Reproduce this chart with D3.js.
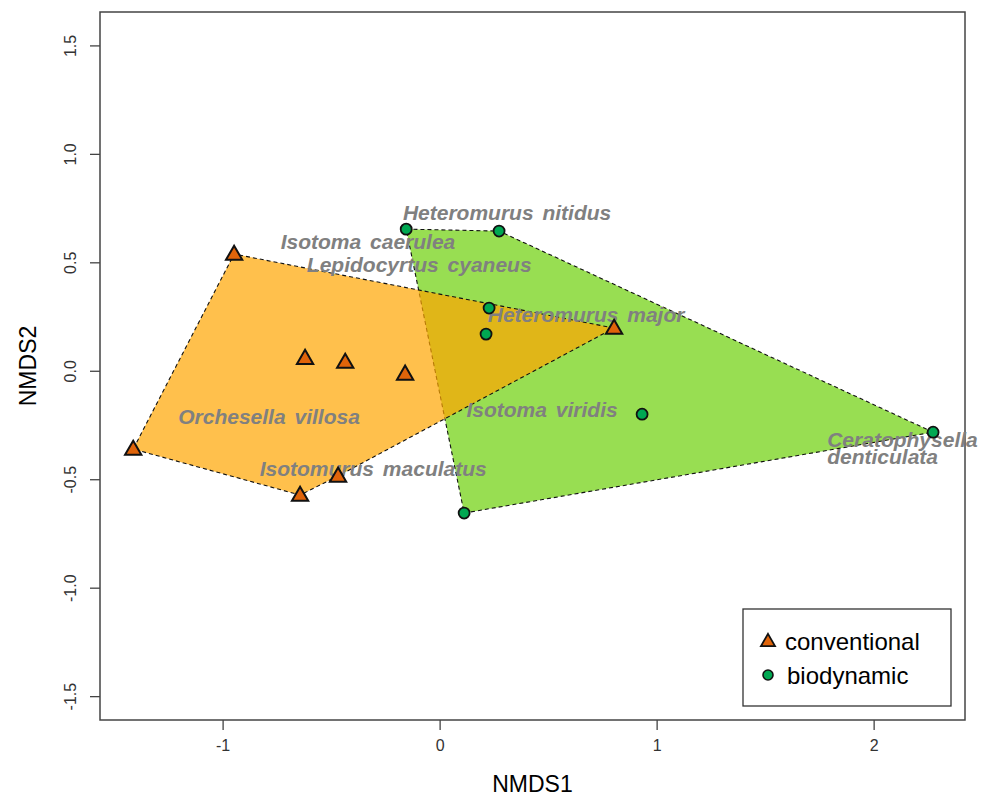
<!DOCTYPE html>
<html>
<head>
<meta charset="utf-8">
<script src="https://cdn.jsdelivr.net/npm/d3@7"></script>
<style>
	body { margin: 0; background: #fff; }
	text { font-family: "Liberation Sans", Arial, sans-serif; }
	.species { font-weight: bold; font-style: italic; fill: #808080; font-size: 21px; word-spacing: 3px; }
</style>
</head>
<body>
<div id="chart-area"></div>
<script>

// site scores (NMDS1, NMDS2)
let convX = [-0.947, -0.62, -0.435, -0.159, 0.804, -1.412, -0.643, -0.468];
let convY = [0.538, 0.058, 0.04, -0.015, 0.197, -0.361, -0.573, -0.485];

let bioX = [-0.154, 0.274, 0.228, 0.214, 0.933, 2.274, 0.113];
let bioY = [0.653, 0.644, 0.289, 0.169, -0.2, -0.283, -0.656];

// species labels
let species = ["Heteromurus nitidus", "Isotoma caerulea", "Lepidocyrtus cyaneus", "Heteromurus major",
	"Orchesella villosa", "Isotomurus maculatus", "Isotoma viridis", "Ceratophysella\ndenticulata"];
let speciesX = [0.311, -0.330, -0.094, 0.675, -0.786, -0.306, 0.472, 1.786];
let speciesY = [0.729, 0.598, 0.492, 0.259, -0.209, -0.448, -0.178, -0.317];
let speciesAnchor = ["middle", "middle", "middle", "middle", "middle", "middle", "middle", "start"];

let groups = ["conventional", "biodynamic"];
let xTicks = [-1, 0, 1, 2];
let yTicks = [-1.5, -1.0, -0.5, 0.0, 0.5, 1.0, 1.5];

// SVG drawing area
let margin = {top: 12, right: 19, bottom: 76, left: 100};
let width = 984 - margin.left - margin.right,
	height = 796 - margin.top - margin.bottom;

let svg = d3.select("#chart-area").append("svg")
	.attr("width", width + margin.left + margin.right)
	.attr("height", height + margin.top + margin.bottom)
	.append("g")
	.attr("transform", "translate(" + margin.left + "," + margin.top + ")");

let x = d3.scaleLinear().domain([-1.565, 2.421]).range([0, width]);
let y = d3.scaleLinear().domain([-1.61, 1.654]).range([height, 0]);

let conv = convX.map((d, i) => [d, convY[i]]);
let bio = bioX.map((d, i) => [d, bioY[i]]);

// hulls - green first, orange on top
function drawHull(pts, color) {
	let hull = d3.polygonHull(pts.map(p => [x(p[0]), y(p[1])]));
	svg.append("path")
		.attr("d", "M" + hull.join("L") + "Z")
		.attr("fill", color)
		.attr("fill-opacity", 0.7)
		.attr("stroke", "#111")
		.attr("stroke-width", 1.1)
		.attr("stroke-dasharray", "4,3");
}
drawHull(bio, "#6CD008");
drawHull(conv, "#FFA500");

// axes
let xAxis = svg.append("g")
	.attr("font-size", 16)
	.attr("transform", "translate(0," + height + ")")
	.call(d3.axisBottom(x).tickValues(xTicks).tickFormat(d => d < 0 ? "-" + Math.abs(d) : String(d)).tickSize(10).tickPadding(10));
xAxis.attr("font-size", 16).attr("font-family", "'Liberation Sans', Arial, sans-serif");
xAxis.select(".domain").remove();

let yAxis = svg.append("g")
	.call(d3.axisLeft(y).tickValues(yTicks).tickFormat(d => (d < 0 ? "-" : "") + Math.abs(d).toFixed(1)).tickSize(10));
yAxis.attr("font-size", 16).attr("font-family", "'Liberation Sans', Arial, sans-serif");
yAxis.select(".domain").remove();
yAxis.selectAll(".tick text")
	.attr("x", 0).attr("dy", 0)
	.attr("text-anchor", "middle")
	.attr("transform", "translate(-24,0) rotate(-90)");

svg.selectAll(".tick line").attr("stroke", "#444").attr("stroke-width", 1.3);
svg.selectAll(".tick text").attr("fill", "#333");

// frame
svg.append("rect")
	.attr("width", width)
	.attr("height", height)
	.attr("fill", "none")
	.attr("stroke", "#444")
	.attr("stroke-width", 1.5);

// axis titles
svg.append("text")
	.attr("x", width / 2)
	.attr("y", height + 72)
	.attr("text-anchor", "middle")
	.style("font-size", "23px")
	.text("NMDS1");

svg.append("text")
	.attr("transform", "translate(" + (-64) + "," + (height / 2) + ") rotate(-90)")
	.attr("text-anchor", "middle")
	.style("font-size", "23px")
	.text("NMDS2");

// species labels
species.forEach(function(s, i) {
	let t = svg.append("text")
		.attr("class", "species")
		.attr("text-anchor", speciesAnchor[i])
		.attr("x", x(speciesX[i]))
		.attr("y", y(speciesY[i]));
	s.split("\n").forEach(function(line, j) {
		t.append("tspan")
			.attr("x", x(speciesX[i]))
			.attr("dy", j == 0 ? "0.36em" : "17px")
			.text(line);
	});
});

// points
let tri = d3.symbol().type(d3.symbolTriangle).size(115);
svg.selectAll(".conv")
	.data(conv)
	.enter()
	.append("path")
	.attr("class", "conv")
	.attr("d", tri)
	.attr("transform", d => "translate(" + x(d[0]) + "," + (y(d[1]) + 1) + ")")
	.attr("fill", "#E0640A")
	.attr("stroke", "#111")
	.attr("stroke-width", 2);

svg.selectAll(".bio")
	.data(bio)
	.enter()
	.append("circle")
	.attr("class", "bio")
	.attr("cx", d => x(d[0]))
	.attr("cy", d => y(d[1]))
	.attr("r", 5.5)
	.attr("fill", "#00A852")
	.attr("stroke", "#111")
	.attr("stroke-width", 1.8);

// legend
let legend = svg.append("g")
	.attr("transform", "translate(" + (743 - margin.left) + "," + (609 - margin.top) + ")");
legend.append("rect")
	.attr("width", 208)
	.attr("height", 97)
	.attr("fill", "#fff")
	.attr("stroke", "#333")
	.attr("stroke-width", 1.3);

groups.forEach(function(g, i) {
	let cy = 32 + i * 34;
	if (i == 0) {
		legend.append("path")
			.attr("d", d3.symbol().type(d3.symbolTriangle).size(85))
			.attr("transform", "translate(25," + (cy + 1) + ")")
			.attr("fill", "#E0640A")
			.attr("stroke", "#111")
			.attr("stroke-width", 1.8);
	} else {
		legend.append("circle")
			.attr("cx", 25).attr("cy", cy)
			.attr("r", 5)
			.attr("fill", "#00A852")
			.attr("stroke", "#111")
			.attr("stroke-width", 1.6);
	}
	legend.append("text")
		.attr("x", 42 + i * 2)
		.attr("y", cy)
		.attr("dy", "0.36em")
		.style("font-size", "24px")
		.text(g);
});

</script>
</body>
</html>
